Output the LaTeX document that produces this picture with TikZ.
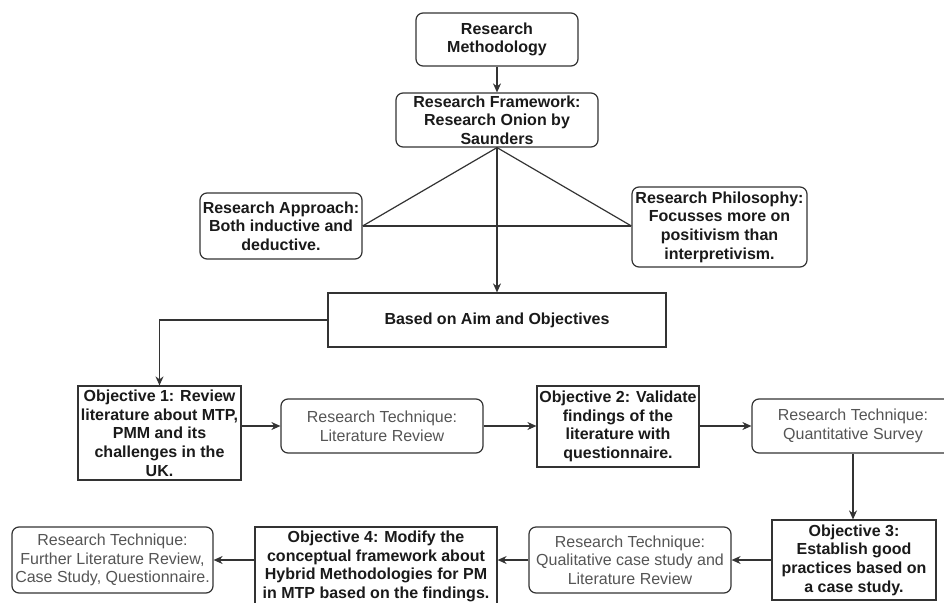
\documentclass[tikz,border=0pt]{standalone}
\usepackage{fontspec}
\setmainfont{Liberation Sans}
\usetikzlibrary{arrows.meta}
\definecolor{linec}{HTML}{333333}
\definecolor{grayt}{HTML}{555555}
\definecolor{textc}{HTML}{1A1A1A}
\newcommand\fsz{\fontsize{16pt}{18.7pt}\selectfont}
\tikzset{
  base/.style={draw=linec, line width=1.2pt, inner sep=0pt, align=center},
  rbox/.style={base, rounded corners=7pt, font=\fsz\bfseries, text=textc},
  sbox/.style={base, font=\fsz\bfseries, text=textc},
  gbox/.style={base, rounded corners=7pt, font=\fsz, text=grayt},
  arr/.style={draw=linec, line width=1.2pt, -{Stealth[length=9pt,width=8pt]}},
  ln/.style={draw=linec, line width=1.2pt}
}
\begin{document}
\begin{tikzpicture}[x=1pt, y=-1pt]
\fill[white] (0,0) rectangle (944,602);
\useasboundingbox (0,0) rectangle (944,602);
\clip (0,0) rectangle (944,602);

\node[rbox, minimum width=162pt, minimum height=53pt] (rm) at (497,39.5) {Research\\Methodology};
\node[rbox, minimum width=202pt, minimum height=54pt] (rf) at (497,120) {Research Framework:\\Research Onion by\\Saunders};
\node[rbox, minimum width=162pt, minimum height=66pt] (ap) at (281,226) {Research Approach:\\Both inductive and\\deductive.};
\node[rbox, minimum width=175pt, minimum height=80pt] (ph) at (719.5,227) {Research Philosophy:\\Focusses more on\\positivism than\\interpretivism.};
\node[sbox, minimum width=338pt, minimum height=54pt] (aim) at (497,320) {Based on Aim and Objectives};

\node[sbox, minimum width=163pt, minimum height=94pt] (o1) at (159.5,433) {Objective 1: Review\\literature about MTP,\\PMM and its\\challenges in the\\UK.};
\node[gbox, minimum width=202pt, minimum height=54pt] (rt1) at (382,426) {Research Technique:\\Literature Review};
\node[sbox, minimum width=162pt, minimum height=81pt] (o2) at (618,426.5) {Objective 2: Validate\\findings of the\\literature with\\questionnaire.};
\node[gbox, minimum width=202pt, minimum height=54pt] (rt2) at (853,426) {Research Technique:\\Quantitative Survey};
\node[sbox, minimum width=164pt, minimum height=80pt] (o3) at (854,560) {Objective 3:\\Establish good\\practices based on\\a case study.};
\node[gbox, minimum width=202pt, minimum height=66pt] (rt3) at (630,560) {Research Technique:\\Qualitative case study and\\Literature Review};
\node[sbox, minimum width=242pt, minimum height=79pt] (o4) at (376,566.5) {Objective 4: Modify the\\conceptual framework about\\Hybrid Methodologies for PM\\in MTP based on the findings.};
\node[gbox, minimum width=201pt, minimum height=66pt] (rt4) at (112.5,560) {Research Technique:\\Further Literature Review,\\Case Study, Questionnaire.};

\draw[arr] (rm.south) -- (rf.north);
\draw[arr] (rf.south) -- (aim.north);
\draw[ln] (rf.south) -- (ap.east);
\draw[ln] (rf.south) -- (ap.east -| ph.west);
\draw[ln] (ap.east) -- (ap.east -| ph.west);
\draw[arr] (aim.west) -| (o1.north);
\draw[arr] (o1.east |- rt1.west) -- (rt1.west);
\draw[arr] (rt1.east) -- (o2.west |- rt1.east);
\draw[arr] (o2.east |- rt2.west) -- (rt2.west);
\draw[arr] (rt2.south) -- (rt2.south |- o3.north);
\draw[arr] (o3.west) -- (rt3.east);
\draw[arr] (rt3.west) -- (rt3.west -| o4.east);
\draw[arr] (o4.west |- rt4.east) -- (rt4.east);
\end{tikzpicture}
\end{document}
